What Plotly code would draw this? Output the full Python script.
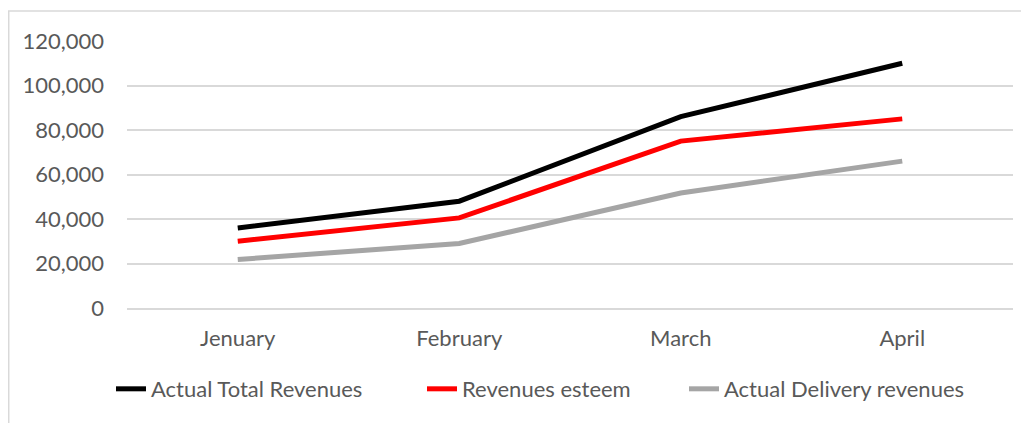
import plotly.graph_objects as go

# chart data
months = ["Jenuary", "February", "March", "April"]
actual_total = [36000, 48000, 86000, 110000]
revenues_esteem = [30000, 40500, 75000, 85000]
actual_delivery = [21800, 29000, 51700, 66000]
y_ticks = [0, 20000, 40000, 60000, 80000, 100000, 120000]

FONT = "Lato, Calibri, sans-serif"
GRID = "#D9D9D9"
TXT = "#595959"
FS = 22
W, H = 1021, 415  # page body has an 8px margin

series = [
    ("Actual Total Revenues", actual_total, "#000000", "legend", 103),
    ("Revenues esteem", revenues_esteem, "#FF0000", "legend2", 414),
    ("Actual Delivery revenues", actual_delivery, "#A5A5A5", "legend3", 676),
]

fig = go.Figure()
legends = {}
for name, vals, color, leg, left_px in series:
    fig.add_trace(
        go.Scatter(
            x=months,
            y=vals,
            name=name,
            mode="lines",
            line=dict(color=color, width=5),
            legend=leg,
        )
    )
    # one legend per entry so each can sit where it does in the original
    legends[leg] = dict(
        orientation="h",
        xref="container",
        yref="container",
        x=left_px / W,
        xanchor="left",
        y=0.1325,
        yanchor="top",
        font=dict(family=FONT, size=FS, color=TXT),
        bgcolor="rgba(0,0,0,0)",
    )

fig.update_layout(
    width=W,
    height=H,
    margin=dict(l=119, r=16, t=33, b=115),
    paper_bgcolor="white",
    plot_bgcolor="white",
    font=dict(family=FONT, size=FS, color=TXT),
    showlegend=True,
    **legends,
    # outer chart border (only left and top edges are visible)
    shapes=[
        dict(type="line", xref="paper", yref="paper",
             x0=-0.1335, x1=-0.1335, y0=-0.6, y1=1.1124,
             line=dict(color=GRID, width=1.5)),
        dict(type="line", xref="paper", yref="paper",
             x0=-0.1343, x1=1.2, y0=1.1124, y1=1.1124,
             line=dict(color=GRID, width=1.5)),
    ],
)

fig.update_xaxes(
    range=[-0.5, 3.5],
    automargin=False,
    showgrid=False,
    showline=True,
    linecolor=GRID,
    linewidth=1.5,
    ticks="",
    ticklabelstandoff=10,
    tickfont=dict(family=FONT, size=FS, color=TXT),
)
fig.update_yaxes(
    range=[0, 120000],
    automargin=False,
    tickvals=y_ticks,
    tickformat=",d",
    showgrid=True,
    gridcolor=GRID,
    gridwidth=1.5,
    zeroline=False,
    showline=False,
    ticks="",
    ticklabelstandoff=22,
    tickfont=dict(family=FONT, size=FS, color=TXT),
)

fig.write_html("out.html")
